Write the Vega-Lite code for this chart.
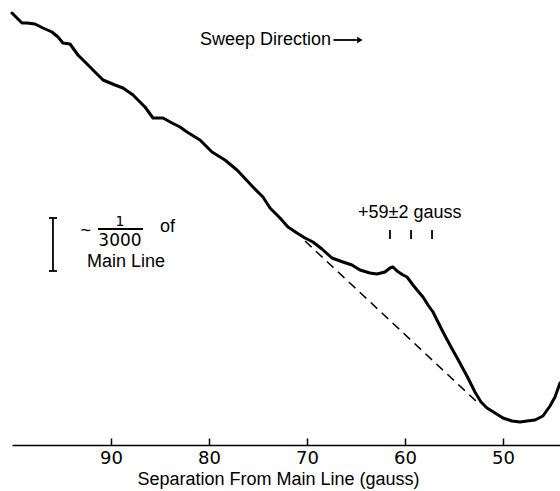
{
  "$schema": "https://vega.github.io/schema/vega-lite/v6.json",
  "width": 548,
  "height": 445,
  "autosize": {"type": "none"},
  "padding": {"left": 12, "top": 0, "right": 0, "bottom": 46},
  "background": "white",
  "config": {"view": {"stroke": null}, "font": "Liberation Sans"},
  "datasets": {
    "curve": [
      {"g": 100.1, "v": 432}, {"g": 99.59, "v": 427}, {"g": 99.08, "v": 422}, {"g": 98.57, "v": 422},
      {"g": 97.75, "v": 421}, {"g": 96.94, "v": 417}, {"g": 96.02, "v": 413}, {"g": 95.41, "v": 408},
      {"g": 94.9, "v": 402}, {"g": 94.18, "v": 401}, {"g": 93.37, "v": 390}, {"g": 92.34, "v": 380},
      {"g": 91.53, "v": 372}, {"g": 90.81, "v": 365}, {"g": 89.59, "v": 360}, {"g": 88.77, "v": 357},
      {"g": 87.75, "v": 350}, {"g": 86.53, "v": 338}, {"g": 85.71, "v": 327}, {"g": 84.69, "v": 327},
      {"g": 83.77, "v": 322}, {"g": 82.96, "v": 318}, {"g": 82.24, "v": 313}, {"g": 80.92, "v": 305},
      {"g": 79.69, "v": 293}, {"g": 78.37, "v": 285}, {"g": 77.14, "v": 275}, {"g": 75.51, "v": 258},
      {"g": 74.49, "v": 248}, {"g": 73.77, "v": 237}, {"g": 72.75, "v": 227}, {"g": 71.94, "v": 218},
      {"g": 71.02, "v": 212}, {"g": 70.2, "v": 207}, {"g": 69.39, "v": 203}, {"g": 68.47, "v": 196},
      {"g": 67.45, "v": 187}, {"g": 66.33, "v": 183}, {"g": 65.41, "v": 180}, {"g": 64.59, "v": 175},
      {"g": 63.57, "v": 172}, {"g": 62.86, "v": 171}, {"g": 62.04, "v": 173}, {"g": 61.53, "v": 177},
      {"g": 61.22, "v": 178}, {"g": 60.81, "v": 174}, {"g": 60.2, "v": 170}, {"g": 59.79, "v": 168},
      {"g": 59.18, "v": 160}, {"g": 58.77, "v": 155}, {"g": 58.16, "v": 148}, {"g": 57.65, "v": 140},
      {"g": 57.14, "v": 133}, {"g": 56.63, "v": 123}, {"g": 56.12, "v": 113}, {"g": 55.3, "v": 98},
      {"g": 54.39, "v": 82}, {"g": 53.57, "v": 67}, {"g": 52.86, "v": 53}, {"g": 52.24, "v": 43},
      {"g": 51.63, "v": 37}, {"g": 50.81, "v": 32}, {"g": 50.0, "v": 27}, {"g": 49.08, "v": 24},
      {"g": 48.26, "v": 23}, {"g": 47.55, "v": 24}, {"g": 46.73, "v": 25}, {"g": 45.92, "v": 29},
      {"g": 45.2, "v": 39}, {"g": 44.69, "v": 48}, {"g": 44.18, "v": 62}
    ],
    "baseline": [
      {"g": 70.2, "v": 204}, {"g": 52.65, "v": 43}
    ],
    "segments": [
      {"g": 95.92, "g2": 95.92, "v": 227, "v2": 174},
      {"g": 96.33, "g2": 95.51, "v": 227, "v2": 227},
      {"g": 96.33, "g2": 95.51, "v": 174, "v2": 174},
      {"g": 91.33, "g2": 86.73, "v": 216, "v2": 216},
      {"g": 61.53, "g2": 61.53, "v": 215, "v2": 206},
      {"g": 59.38, "g2": 59.38, "v": 215, "v2": 206},
      {"g": 57.24, "g2": 57.24, "v": 215, "v2": 206},
      {"g": 67.3, "g2": 64.9, "v": 405, "v2": 405}
    ],
    "arrowhead": [{"g": 64.6, "v": 405}],
    "leftText": [
      {"t": "Sweep Direction", "g": 80.92, "v": 405},
      {"t": "+59±2  gauss", "g": 64.79, "v": 232},
      {"t": "~", "g": 93.1, "v": 214},
      {"t": "of", "g": 85.0, "v": 218},
      {"t": "Main Line", "g": 92.45, "v": 183}
    ],
    "fracTop": [
      {"t": "1", "g": 89.08, "v": 223.5}
    ],
    "fracBottom": [
      {"t": "3000", "g": 89.08, "v": 204.5}
    ]
  },
  "encoding": {
    "x": {
      "field": "g", "type": "quantitative",
      "scale": {"domain": [44.18, 100.1], "reverse": true, "nice": false, "zero": false},
      "axis": {
        "values": [90, 80, 70, 60, 50],
        "title": "Separation From Main Line (gauss)",
        "grid": false,
        "domainColor": "black", "domainWidth": 1.5,
        "tickColor": "black", "tickWidth": 1.5, "tickSize": -7,
        "labelFontSize": 18, "labelColor": "black", "labelPadding": 11,
        "labelFont": "DejaVu Sans",
        "titleFontSize": 18, "titleFontWeight": "normal", "titleColor": "black",
        "titleFont": "Liberation Sans",
        "titleX": 266, "titleY": 34, "titleBaseline": "middle", "titleAnchor": "middle"
      }
    },
    "y": {
      "field": "v", "type": "quantitative",
      "scale": {"domain": [0, 445], "nice": false, "zero": false},
      "axis": null
    }
  },
  "layer": [
    {
      "data": {"name": "curve"},
      "mark": {"type": "line", "color": "black", "strokeWidth": 3, "strokeJoin": "round", "strokeCap": "round"}
    },
    {
      "data": {"name": "baseline"},
      "mark": {"type": "line", "color": "black", "strokeWidth": 1.5, "strokeDash": [9, 6]}
    },
    {
      "data": {"name": "segments"},
      "mark": {"type": "rule", "color": "black", "strokeWidth": 1.8},
      "encoding": {
        "x2": {"field": "g2"},
        "y2": {"field": "v2"}
      }
    },
    {
      "data": {"name": "arrowhead"},
      "mark": {"type": "point", "shape": "triangle-right", "filled": true, "color": "black", "size": 40, "opacity": 1}
    },
    {
      "data": {"name": "leftText"},
      "mark": {"type": "text", "align": "left", "baseline": "middle", "fontSize": 18, "color": "black", "font": "Liberation Sans"},
      "encoding": {"text": {"field": "t"}}
    },
    {
      "data": {"name": "fracTop"},
      "mark": {"type": "text", "align": "center", "baseline": "middle", "fontSize": 14, "color": "black", "font": "DejaVu Sans"},
      "encoding": {"text": {"field": "t"}}
    },
    {
      "data": {"name": "fracBottom"},
      "mark": {"type": "text", "align": "center", "baseline": "middle", "fontSize": 17, "color": "black", "font": "DejaVu Sans"},
      "encoding": {"text": {"field": "t"}}
    }
  ]
}
